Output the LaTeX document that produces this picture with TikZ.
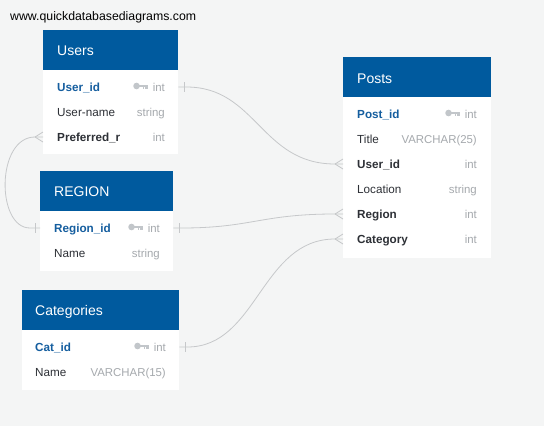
\documentclass[tikz,border=0pt]{standalone}
\usepackage{fontspec}
\setmainfont{Liberation Sans}
\usetikzlibrary{calc}
\definecolor{bgc}{HTML}{F4F5F5}
\definecolor{hdrc}{HTML}{005A9E}
\definecolor{pkc}{HTML}{155E9F}
\definecolor{darkc}{HTML}{2D3036}
\definecolor{typc}{HTML}{A5A9AD}
\definecolor{keyc}{HTML}{C2C6CA}
\definecolor{relc}{HTML}{C6C8CA}
\tikzset{
  hdrbox/.style={fill=hdrc, draw=none, anchor=north west, inner sep=0pt, minimum height=40pt},
  bodybox/.style={fill=white, draw=none, anchor=north west, inner sep=0pt},
  htxt/.style={text=white, font=\fontsize{14}{16}\selectfont, anchor=west, inner sep=0pt, text height=10pt, text depth=0pt},
  rowfont/.style={font=\fontsize{11.7}{14}\selectfont, inner sep=0pt, text height=8.4pt, text depth=0pt},
  pkname/.style={rowfont, text=pkc, font=\fontsize{11.7}{14}\selectfont\bfseries, anchor=west},
  fkname/.style={rowfont, text=darkc, font=\fontsize{11.7}{14}\selectfont\bfseries, anchor=west},
  fname/.style={rowfont, text=darkc, anchor=west},
  ftype/.style={rowfont, text=typc, font=\fontsize{11.4}{14}\selectfont, anchor=east},
  rel/.style={draw=relc, line width=0.8pt},
  keyicon/.pic={
    \fill[keyc] (-11,-1) circle (3.3);
    \fill[keyc] (-10,-2.5) rectangle (0,0.3);
    \fill[keyc] (-5,0.3) rectangle (-3.3,2.3);
    \fill[keyc] (-2.2,0.3) rectangle (0,2.3);
  },
  crowfoot/.pic={
    \draw[rel] (-8,0) -- (0,-5);
    \draw[rel] (-8,0) -- (0,5);
  },
  tickmark/.pic={
    \draw[rel] (0,-5) -- (0,5);
  }
}
\begin{document}
\begin{tikzpicture}[x=1pt,y=-1pt]
\fill[bgc] (0,0) rectangle (544,426);
\useasboundingbox (0,0) rectangle (544,426);

\node[anchor=west, inner sep=0pt, text height=9pt, text depth=0pt, font=\fontsize{12.3}{15}\selectfont] (site) at (10,16) {www.quickdatabasediagrams.com};

% Users
\node[hdrbox, minimum width=135pt] (usersH) at (43,30) {};
\node[bodybox, minimum width=135pt, minimum height=84pt] (usersB) at (43,70) {};
\node[htxt] (usersT) at (57,50) {Users};
\node[pkname] (u1) at (57,87) {User\_id};
\node[ftype] (u1t) at (165,87) {int};
\pic at ($(u1t.west)+(-5,0)$) {keyicon};
\node[fname] (u2) at (57,112) {User-name};
\node[ftype] (u2t) at (165,112) {string};
\node[fkname] (u3) at (57,137) {Preferred\_r};
\node[ftype] (u3t) at (165,137) {int};

% REGION
\node[hdrbox, minimum width=133pt] (regH) at (40,171) {};
\node[bodybox, minimum width=133pt, minimum height=60pt] (regB) at (40,211) {};
\node[htxt] (regT) at (54,191) {REGION};
\node[pkname] (r1) at (54,228) {Region\_id};
\node[ftype] (r1t) at (160,228) {int};
\pic at ($(r1t.west)+(-5,0)$) {keyicon};
\node[fname] (r2) at (54,253) {Name};
\node[ftype] (r2t) at (160,253) {string};

% Categories
\node[hdrbox, minimum width=157pt] (catH) at (22,290) {};
\node[bodybox, minimum width=157pt, minimum height=60pt] (catB) at (22,330) {};
\node[htxt] (catT) at (35,310) {Categories};
\node[pkname] (c1) at (35,347) {Cat\_id};
\node[ftype] (c1t) at (166,347) {int};
\pic at ($(c1t.west)+(-5,0)$) {keyicon};
\node[fname] (c2) at (35,372) {Name};
\node[ftype] (c2t) at (166,372) {VARCHAR(15)};

% Posts
\node[hdrbox, minimum width=148pt] (postH) at (343,57) {};
\node[bodybox, minimum width=148pt, minimum height=161pt] (postB) at (343,97) {};
\node[htxt] (postT) at (357,78) {Posts};
\node[pkname] (p1) at (357,114) {Post\_id};
\node[ftype] (p1t) at (477,114) {int};
\pic at ($(p1t.west)+(-5,0)$) {keyicon};
\node[fname] (p2) at (357,139) {Title};
\node[ftype] (p2t) at (477,139) {VARCHAR(25)};
\node[fkname] (p3) at (357,164) {User\_id};
\node[ftype] (p3t) at (477,164) {int};
\node[fname] (p4) at (357,189) {Location};
\node[ftype] (p4t) at (477,189) {string};
\node[fkname] (p5) at (357,214) {Region};
\node[ftype] (p5t) at (477,214) {int};
\node[fkname] (p6) at (357,239) {Category};
\node[ftype] (p6t) at (477,239) {int};

% relations
\coordinate (aU) at (usersB.east |- u1);
\coordinate (aP3) at (postB.west |- p3);
\draw[rel] (aU) -- ++(8,0) .. controls +(70,0) and ($(aP3)+(-82,0)$) .. ($(aP3)+(-8,0)$) -- (aP3);
\pic at ($(aU)+(5.5,0)$) {tickmark};
\pic at (aP3) {crowfoot};

\coordinate (aR) at (regB.east |- r1);
\coordinate (aP5) at (postB.west |- p5);
\draw[rel] (aR) -- ++(8,0) .. controls +(70,0) and ($(aP5)+(-82,0)$) .. ($(aP5)+(-8,0)$) -- (aP5);
\pic at ($(aR)+(5.5,0)$) {tickmark};
\pic at (aP5) {crowfoot};

\coordinate (aC) at (catB.east |- c1);
\coordinate (aP6) at (postB.west |- p6);
\draw[rel] (aC) -- ++(8,0) .. controls +(70,0) and ($(aP6)+(-82,0)$) .. ($(aP6)+(-8,0)$) -- (aP6);
\pic at ($(aC)+(5.5,0)$) {tickmark};
\pic at (aP6) {crowfoot};

\coordinate (aU3) at (usersB.west |- u3);
\coordinate (aRL) at (regB.west |- r1);
\draw[rel] (aU3) -- ++(-8,0) .. controls (-4,137) and (-4,228) .. ($(aRL)+(-10,0)$) -- (aRL);
\pic at (aU3) {crowfoot};
\pic at ($(aRL)+(-5,0)$) {tickmark};
\end{tikzpicture}
\end{document}
